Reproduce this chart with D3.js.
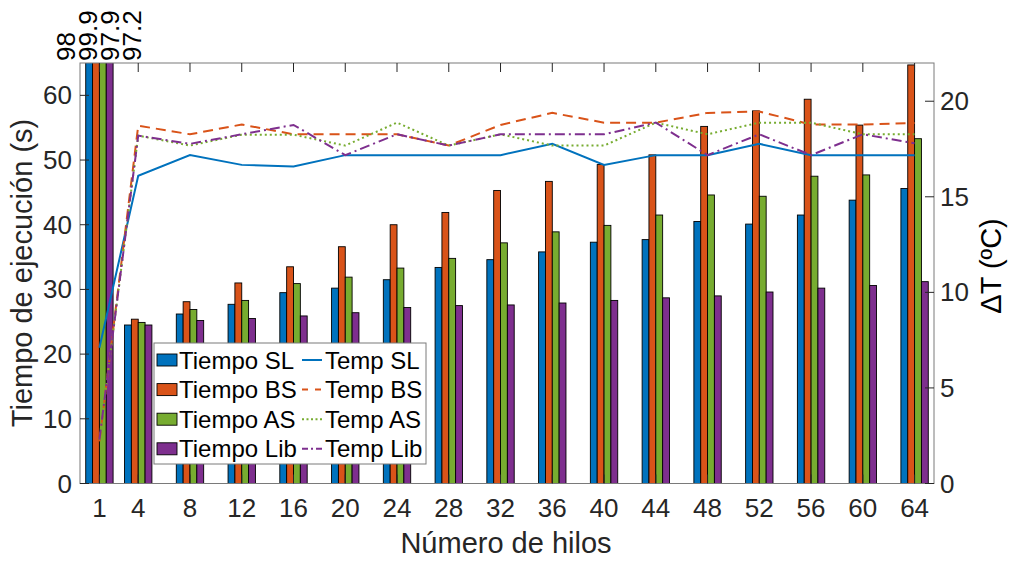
<!DOCTYPE html>
<html>
<head>
<meta charset="utf-8">
<script src="https://cdn.jsdelivr.net/npm/d3@7"></script>
<style>
body{margin:0;background:#fff;}
svg{font-family:"Liberation Sans",Arial,sans-serif;}
</style>
</head>
<body>
<svg id="chart" width="1011" height="561"></svg>
<script>
var hilos=[1,4,8,12,16,20,24,28,32,36,40,44,48,52,56,60,64];

var tiempoSL=[98,24.5,26.2,27.7,29.5,30.2,31.5,33.4,34.6,35.8,37.3,37.7,40.5,40.1,41.5,43.8,45.6];
var tiempoBS=[99.9,25.4,28.1,31.0,33.5,36.6,40.0,41.9,45.3,46.7,49.3,50.8,55.2,57.6,59.4,55.4,64.7];
var tiempoAS=[97.9,24.9,26.9,28.3,30.9,31.9,33.3,34.8,37.2,38.9,39.9,41.5,44.6,44.4,47.5,47.7,53.3];
var tiempoLib=[97.2,24.5,25.2,25.5,25.9,26.4,27.2,27.5,27.6,27.9,28.3,28.7,29.0,29.6,30.2,30.6,31.2];

var tempSL=[7.1,16.1,17.18,16.67,16.58,17.18,17.18,17.18,17.18,17.77,16.67,17.18,17.18,17.77,17.18,17.18,17.18];
var tempBS=[2.2,18.72,18.27,18.78,18.27,18.27,18.27,17.68,18.76,19.39,18.88,18.88,19.39,19.46,18.78,18.78,18.86];
var tempAS=[2.3,18.2,17.68,18.25,18.25,17.68,18.88,17.68,18.27,17.68,17.68,18.88,18.27,18.88,18.88,18.27,18.27];
var tempLib=[2.3,18.2,17.77,18.27,18.76,17.18,18.27,17.68,18.27,18.27,18.27,18.88,17.18,18.27,17.18,18.27,17.8];

var leftTicks=[0,10,20,30,40,50,60];
var rightTicks=[0,5,10,15,20];
var labelsTop=["98","99.9","97.9","97.2"];

var seriesBar=[
    {name:"Tiempo SL",values:tiempoSL,color:"#0072BD"},
    {name:"Tiempo BS",values:tiempoBS,color:"#D95319"},
    {name:"Tiempo AS",values:tiempoAS,color:"#77AC30"},
    {name:"Tiempo Lib",values:tiempoLib,color:"#7E2F8E"}
];
var seriesLine=[
    {name:"Temp SL",values:tempSL,color:"#0072BD",dash:null},
    {name:"Temp BS",values:tempBS,color:"#D95319",dash:"10,6"},
    {name:"Temp AS",values:tempAS,color:"#77AC30",dash:"2,3"},
    {name:"Temp Lib",values:tempLib,color:"#7E2F8E",dash:"10,4,2,4"}
];

var L=80,R=934,T=63,B=483.5;
var axisColor="#262626";
var svg=d3.select("#chart");

var x=d3.scaleLinear().domain([-0.5,65.5]).range([L,R]);
var yL=d3.scaleLinear().domain([0,65]).range([B,T]);
var yR=d3.scaleLinear().domain([0,22]).range([B,T]);

// ancho del grupo segun la separacion minima (1 -> 4)
var groupW=(x(4)-x(1))*0.705;
var inner=d3.scaleBand().domain(d3.range(seriesBar.length)).range([-groupW/2,groupW/2]).paddingInner(0);

svg.append("defs").append("clipPath").attr("id","plotclip")
    .append("rect").attr("x",L).attr("y",T).attr("width",R-L).attr("height",B-T);

var plot=svg.append("g").attr("clip-path","url(#plotclip)");

seriesBar.forEach(function(s,si){
    plot.append("g").selectAll("rect").data(s.values).enter().append("rect")
    .attr("x",function(d,i){return x(hilos[i])+inner(si);})
    .attr("y",function(d){return yL(d);})
    .attr("width",inner.bandwidth())
    .attr("height",function(d){return yL(0)-yL(d);})
    .attr("fill",s.color)
    .attr("stroke","#000")
    .attr("stroke-width",0.9);
});

seriesLine.forEach(function(s){
    var line=d3.line()
        .x(function(d,i){return x(hilos[i]);})
        .y(function(d){return yR(d);});
    plot.append("path").datum(s.values)
    .attr("d",line)
    .attr("fill","none")
    .attr("stroke",s.color)
    .attr("stroke-width",2)
    .attr("stroke-dasharray",s.dash);
});

// ejes
var tl=9;
var axes=svg.append("g").attr("stroke",axisColor).attr("stroke-width",1).attr("fill","none");
axes.append("rect").attr("x",L).attr("y",T).attr("width",R-L).attr("height",B-T).attr("stroke","#7a7a7a");

axes.selectAll("line.xb").data(hilos).enter().append("line")
    .attr("x1",function(d){return x(d);}).attr("x2",function(d){return x(d);})
    .attr("y1",B).attr("y2",B-tl);
axes.selectAll("line.xt").data(hilos).enter().append("line")
    .attr("x1",function(d){return x(d);}).attr("x2",function(d){return x(d);})
    .attr("y1",T).attr("y2",T+tl);
axes.selectAll("line.yl").data(leftTicks).enter().append("line")
    .attr("x1",L).attr("x2",L+tl)
    .attr("y1",function(d){return yL(d);}).attr("y2",function(d){return yL(d);});
axes.selectAll("line.yr").data(rightTicks).enter().append("line")
    .attr("x1",R).attr("x2",R-tl)
    .attr("y1",function(d){return yR(d);}).attr("y2",function(d){return yR(d);});

var txt=svg.append("g").attr("fill",axisColor).attr("font-size",26);
txt.selectAll("text.xl").data(hilos).enter().append("text")
    .attr("x",function(d){return x(d);}).attr("y",517)
    .attr("text-anchor","middle").text(function(d){return d;});
txt.selectAll("text.yl").data(leftTicks).enter().append("text")
    .attr("x",72).attr("y",function(d){return yL(d)+9;})
    .attr("text-anchor","end").text(function(d){return d;});
txt.selectAll("text.yr").data(rightTicks).enter().append("text")
    .attr("x",940).attr("y",function(d){return yR(d)+9;})
    .attr("text-anchor","start").text(function(d){return d;});

// valores recortados del primer grupo
txt.selectAll("text.top").data(labelsTop).enter().append("text")
    .attr("transform",function(d,i){return "translate("+(x(hilos[0])-24+i*21.7)+",61) rotate(-90)";})
    .attr("fill","#000")
    .text(function(d){return d;});

svg.append("text").attr("x",506).attr("y",553).attr("text-anchor","middle")
    .attr("font-size",29).attr("fill",axisColor).text("Número de hilos");
svg.append("text").attr("transform","translate(32,273) rotate(-90)").attr("text-anchor","middle")
    .attr("font-size",29).attr("fill",axisColor).text("Tiempo de ejecución (s)");
svg.append("text").attr("transform","translate(1001,266) rotate(-90)").attr("text-anchor","middle")
    .attr("font-size",29).attr("fill","#000").text("ΔT (ºC)");

// leyenda
var leg=svg.append("g");
leg.append("rect").attr("x",154).attr("y",343).attr("width",272).attr("height",121)
    .attr("fill","#fff").attr("stroke","#7a7a7a").attr("stroke-width",1);
var rowY=function(i){return 360+i*29.6;};
seriesBar.forEach(function(s,i){
    leg.append("rect").attr("x",157).attr("y",rowY(i)-6).attr("width",20).attr("height",12)
    .attr("fill",s.color).attr("stroke","#000").attr("stroke-width",0.9);
    leg.append("text").attr("x",179).attr("y",rowY(i)+8.5).attr("font-size",24).attr("fill","#000").text(s.name);
});
seriesLine.forEach(function(s,i){
    leg.append("line").attr("x1",302).attr("x2",322).attr("y1",rowY(i)).attr("y2",rowY(i))
    .attr("stroke",s.color).attr("stroke-width",2)
    .attr("stroke-dasharray",s.dash?(i==1?"6,7":i==2?"2,2.5":"6,3,2,3"):null);
    leg.append("text").attr("x",325).attr("y",rowY(i)+8.5).attr("font-size",24).attr("fill","#000").text(s.name);
});
</script>
</body>
</html>
